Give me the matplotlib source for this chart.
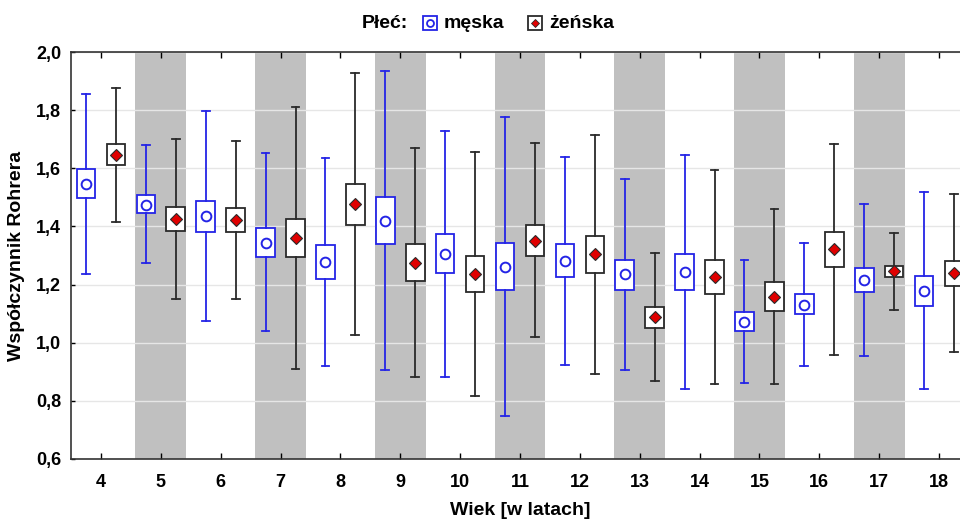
import matplotlib
matplotlib.use("Agg")
import matplotlib.pyplot as plt
from matplotlib.lines import Line2D

plt.rcParams['font.family'] = ['Liberation Sans', 'DejaVu Sans']
plt.rcParams['font.weight'] = 'bold'

ages = [4, 5, 6, 7, 8, 9, 10, 11, 12, 13, 14, 15, 16, 17, 18]

# male (męska): whisker low, Q1, center, Q3, whisker high
m_lo  = [1.235, 1.275, 1.075, 1.039, 0.920, 0.906, 0.883, 0.749, 0.923, 0.905, 0.842, 0.861, 0.921, 0.954, 0.842]
m_q1  = [1.497, 1.447, 1.380, 1.296, 1.220, 1.338, 1.239, 1.181, 1.225, 1.182, 1.180, 1.039, 1.099, 1.175, 1.127]
m_mid = [1.545, 1.475, 1.435, 1.344, 1.278, 1.420, 1.304, 1.259, 1.281, 1.235, 1.242, 1.071, 1.131, 1.216, 1.178]
m_q3  = [1.596, 1.507, 1.489, 1.393, 1.335, 1.502, 1.374, 1.343, 1.339, 1.286, 1.306, 1.106, 1.166, 1.258, 1.231]
m_hi  = [1.857, 1.679, 1.797, 1.654, 1.636, 1.935, 1.728, 1.775, 1.639, 1.562, 1.646, 1.284, 1.344, 1.476, 1.518]

# female (żeńska)
f_lo  = [1.415, 1.150, 1.150, 0.911, 1.025, 0.883, 0.817, 1.019, 0.891, 0.868, 0.859, 0.857, 0.957, 1.111, 0.968]
f_q1  = [1.610, 1.384, 1.380, 1.294, 1.404, 1.211, 1.173, 1.297, 1.241, 1.052, 1.168, 1.109, 1.260, 1.225, 1.196]
f_mid = [1.645, 1.426, 1.422, 1.361, 1.477, 1.275, 1.236, 1.351, 1.304, 1.087, 1.225, 1.158, 1.321, 1.246, 1.241]
f_q3  = [1.682, 1.467, 1.464, 1.424, 1.545, 1.341, 1.298, 1.405, 1.366, 1.124, 1.286, 1.208, 1.381, 1.265, 1.281]
f_hi  = [1.875, 1.700, 1.693, 1.811, 1.928, 1.671, 1.656, 1.687, 1.713, 1.307, 1.594, 1.460, 1.685, 1.378, 1.510]

yticks = [0.6, 0.8, 1.0, 1.2, 1.4, 1.6, 1.8, 2.0]
ytick_labels = ['0,6', '0,8', '1,0', '1,2', '1,4', '1,6', '1,8', '2,0']

BLUE = '#2424e6'
DARK = '#2a2a2a'
RED = '#e00000'
BAND = '#c0c0c0'

fig = plt.figure(figsize=(9.6, 5.19), dpi=100)
ax = fig.add_axes([71/960, 60/519, 898/960, 407/519])

# shaded bands for odd ages
for a in ages:
    if a % 2 == 1:
        ax.axvspan(a - 0.425, a + 0.425, color=BAND, lw=0, zorder=0)

for y in yticks:
    ax.axhline(y, color='#e6e6e6', lw=1.0, zorder=1)

def stats(lo, q1, mid, q3, hi):
    return [dict(whislo=a, q1=b, med=c, mean=c, q3=d, whishi=e)
            for a, b, c, d, e in zip(lo, q1, mid, q3, hi)]

off = 0.25
w = 0.31
ax.bxp(stats(m_lo, m_q1, m_mid, m_q3, m_hi), positions=[a - off for a in ages],
       widths=w, capwidths=0.13, patch_artist=True, showmeans=True, showfliers=False,
       boxprops=dict(facecolor='white', edgecolor=BLUE, lw=1.3),
       whiskerprops=dict(color=BLUE, lw=1.3), capprops=dict(color=BLUE, lw=1.3),
       medianprops=dict(visible=False),
       meanprops=dict(marker='o', markerfacecolor='white', markeredgecolor=BLUE,
                      markersize=7, markeredgewidth=1.4),
       zorder=3)
ax.bxp(stats(f_lo, f_q1, f_mid, f_q3, f_hi), positions=[a + off for a in ages],
       widths=w, capwidths=0.13, patch_artist=True, showmeans=True, showfliers=False,
       boxprops=dict(facecolor='white', edgecolor=DARK, lw=1.3),
       whiskerprops=dict(color=DARK, lw=1.3), capprops=dict(color=DARK, lw=1.3),
       medianprops=dict(visible=False),
       meanprops=dict(marker='D', markerfacecolor=RED, markeredgecolor=DARK,
                      markersize=6, markeredgewidth=0.8),
       zorder=3)

ax.set_xlim(3.5, 18.5)
ax.set_ylim(0.6, 2.0)
ax.set_xticks(ages)
ax.set_xticklabels([str(a) for a in ages])
ax.set_yticks(yticks)
ax.set_yticklabels(ytick_labels)
ax.tick_params(axis='x', direction='in', top=True, length=4, width=1, pad=11, labelsize=13)
ax.tick_params(axis='y', direction='in', right=False, length=3, width=1, pad=7, labelsize=13)
for s in ['left', 'bottom', 'top']:
    ax.spines[s].set_color('#333333')
    ax.spines[s].set_linewidth(1.2)
ax.spines['right'].set_visible(False)

ax.set_xlabel('Wiek [w latach]', fontsize=14, fontweight='bold', labelpad=8)
ax.set_ylabel('Współczynnik Rohrera', fontsize=14, fontweight='bold', labelpad=8)

# legend drawn in figure pixel coordinates
def fx(px):
    return px / 960
def fy(py):
    return 1 - py / 519

ly = 23
fig.text(fx(362), fy(ly), 'Płeć:', fontsize=14, fontweight='bold', ha='left', va='center')
fig.add_artist(Line2D([fx(429.5)], [fy(ly)], transform=fig.transFigure, ls='none',
                      marker='s', markersize=10.5, markerfacecolor='white',
                      markeredgecolor=BLUE, markeredgewidth=1.3))
fig.add_artist(Line2D([fx(429.5)], [fy(ly)], transform=fig.transFigure, ls='none',
                      marker='o', markersize=5, markerfacecolor='white',
                      markeredgecolor=BLUE, markeredgewidth=1.3))
fig.text(fx(444), fy(ly), 'męska', fontsize=14, fontweight='bold', ha='left', va='center')
fig.add_artist(Line2D([fx(534.5)], [fy(ly)], transform=fig.transFigure, ls='none',
                      marker='s', markersize=10.5, markerfacecolor='white',
                      markeredgecolor=DARK, markeredgewidth=1.3))
fig.add_artist(Line2D([fx(534.5)], [fy(ly)], transform=fig.transFigure, ls='none',
                      marker='D', markersize=4.5, markerfacecolor=RED,
                      markeredgecolor=DARK, markeredgewidth=0.6))
fig.text(fx(549), fy(ly), 'żeńska', fontsize=14, fontweight='bold', ha='left', va='center')

fig.savefig('out.png', dpi=100)
